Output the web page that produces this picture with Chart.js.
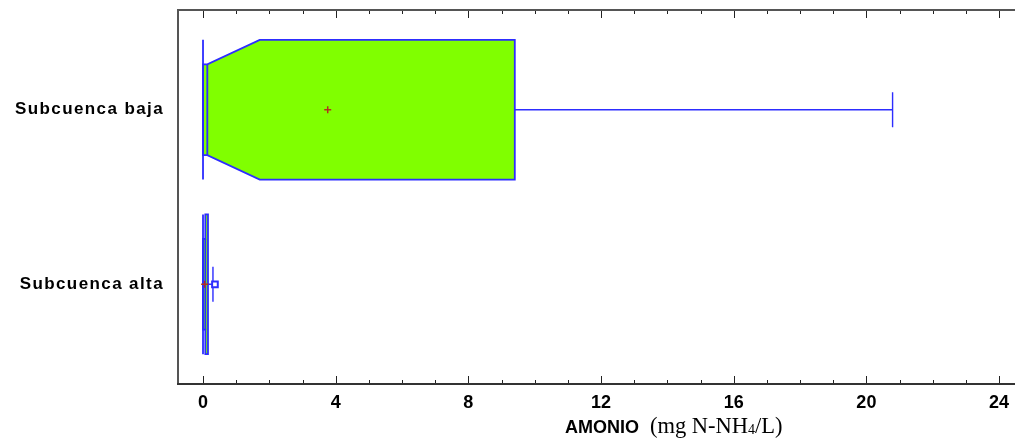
<!DOCTYPE html>
<html>
<head>
<meta charset="utf-8">
<script src="https://cdn.jsdelivr.net/npm/chart.js@4.4.1/dist/chart.umd.min.js"></script>
<style>
  html, body { margin: 0; padding: 0; background: #fff; }
  #wrap { position: relative; width: 1015px; height: 439px; }
  #xtitle { position: absolute; left: 565px; top: 413px; white-space: nowrap; color: #000; }
  #xtitle .lbl { font: bold 18px "Liberation Sans", Arial, sans-serif; }
  #xtitle .unit { font: 22.5px "Liberation Serif", "Times New Roman", serif; margin-left: 11px; }
  #xtitle sub { font-size: 14px; vertical-align: -1px; }
</style>
</head>
<body>
<div id="wrap">
  <canvas id="box" width="1015" height="439"></canvas>
  <div id="xtitle"><span class="lbl">AMONIO</span><span class="unit">(mg N-NH<sub>4</sub>/L)</span></div>
</div>
<script>
// categories, top to bottom
const categories = ['Subcuenca baja', 'Subcuenca alta'];

// five-number summaries (mg N-NH4/L)
const minVals = [0.0, 0.0];
const q1Vals = [0.0, 0.0];
const medianVals = [0.13, 0.07];
const q3Vals = [9.40, 0.15];
const maxVals = [20.79, 0.30];

// upper notch limit and mean
const notchHigh = [1.71, 0.07];
const meanVals = [3.76, 0.05];

// outside points
const outliers = [[], [0.36]];

const xTicks = [0, 4, 8, 12, 16, 20, 24];

const boxHalf = 0.4;
const notchHalf = 0.26;
const capHalf = 0.1;

const boxBlue = 'rgb(45, 45, 255)';
const boxGreen = 'rgb(128, 255, 0)';

// frame, inward ticks and notched boxes
const boxPlot = {
  id: 'boxPlot',
  beforeDatasetsDraw(chart) {
    const { ctx, chartArea: a, scales: { x, y } } = chart;
    ctx.save();

    // minor/major ticks on top and bottom edges
    ctx.strokeStyle = '#222';
    ctx.lineWidth = 1;
    for (let v = 0; v <= 24; v++) {
      const px = Math.round(x.getPixelForValue(v)) + 0.5;
      const len = v % 4 === 0 ? 8 : 4;
      ctx.beginPath();
      ctx.moveTo(px, a.bottom);
      ctx.lineTo(px, a.bottom - len);
      ctx.moveTo(px, a.top);
      ctx.lineTo(px, a.top + len);
      ctx.stroke();
    }

    // frame (open on the right)
    ctx.lineWidth = 2;
    ctx.strokeStyle = '#555';
    ctx.beginPath();
    ctx.moveTo(chart.width, a.top);
    ctx.lineTo(a.left, a.top);
    ctx.lineTo(a.left, a.bottom);
    ctx.stroke();
    ctx.strokeStyle = '#333';
    ctx.beginPath();
    ctx.moveTo(a.left - 1, a.bottom);
    ctx.lineTo(chart.width, a.bottom);
    ctx.stroke();

    ctx.strokeStyle = boxBlue;
    categories.forEach((c, i) => {
      const xq1 = x.getPixelForValue(q1Vals[i]);
      const xm = x.getPixelForValue(medianVals[i]);
      const xn = x.getPixelForValue(notchHigh[i]);
      const xq3 = x.getPixelForValue(q3Vals[i]);
      const xmin = x.getPixelForValue(minVals[i]);
      const xmax = x.getPixelForValue(maxVals[i]);
      const yc = y.getPixelForValue(i);
      const yT = y.getPixelForValue(i - boxHalf);
      const yB = y.getPixelForValue(i + boxHalf);
      const ynT = y.getPixelForValue(i - notchHalf);
      const ynB = y.getPixelForValue(i + notchHalf);
      const ycT = y.getPixelForValue(i - capHalf);
      const ycB = y.getPixelForValue(i + capHalf);

      // whiskers with caps
      ctx.lineWidth = 1.4;
      ctx.beginPath();
      ctx.moveTo(xq3, yc);
      ctx.lineTo(xmax, yc);
      ctx.moveTo(xmax, ycT);
      ctx.lineTo(xmax, ycB);
      ctx.moveTo(xq1, yc);
      ctx.lineTo(xmin, yc);
      ctx.moveTo(xmin, ycT);
      ctx.lineTo(xmin, ycB);
      ctx.stroke();

      // notched box
      ctx.lineWidth = 1.8;
      ctx.beginPath();
      ctx.moveTo(xq1, ynT);
      ctx.lineTo(xm, ynT);
      ctx.lineTo(xn, yT);
      ctx.lineTo(xq3, yT);
      ctx.lineTo(xq3, yB);
      ctx.lineTo(xn, yB);
      ctx.lineTo(xm, ynB);
      ctx.lineTo(xq1, ynB);
      ctx.closePath();
      ctx.fillStyle = boxGreen;
      ctx.fill();
      ctx.stroke();

      // Q1 edge and median
      ctx.beginPath();
      ctx.moveTo(xq1, yT);
      ctx.lineTo(xq1, yB);
      ctx.moveTo(xm, ynT);
      ctx.lineTo(xm, ynB);
      ctx.stroke();
    });
    ctx.restore();
  },
  afterDraw(chart) {
    // category labels, slightly tracked
    const { ctx, chartArea: a, scales: { y } } = chart;
    ctx.save();
    ctx.font = 'bold 17px "Liberation Sans", Arial, sans-serif';
    ctx.letterSpacing = '1.4px';
    ctx.fillStyle = '#000';
    ctx.textAlign = 'right';
    ctx.textBaseline = 'middle';
    categories.forEach((c, i) => {
      ctx.fillText(c, a.left - 14, y.getPixelForValue(i));
    });
    ctx.restore();
  }
};

new Chart('box', {
  type: 'scatter',
  data: {
    datasets: [
      {
        label: 'Media',
        data: meanVals.map((v, i) => ({ x: v, y: i })),
        pointStyle: 'cross',
        radius: 3.5,
        borderWidth: 1.5,
        borderColor: '#b0321e'
      },
      {
        label: 'Atípicos',
        data: outliers.flatMap((arr, i) => arr.map(v => ({ x: v, y: i }))),
        pointStyle: 'rect',
        radius: 4,
        borderWidth: 2,
        borderColor: boxBlue,
        backgroundColor: '#fff'
      }
    ]
  },
  options: {
    responsive: false,
    animation: false,
    layout: { padding: { left: 0, right: 0, top: 10, bottom: 0 } },
    plugins: {
      legend: { display: false },
      tooltip: { enabled: false }
    },
    scales: {
      x: {
        type: 'linear',
        min: -0.754,
        max: 24.30,
        afterBuildTicks: (s) => { s.ticks = xTicks.map(v => ({ value: v })); },
        afterFit: (s) => { s.height = 55; s.paddingLeft = 0; s.paddingRight = 0; },
        grid: { display: false, drawTicks: false },
        border: { display: false },
        ticks: {
          padding: 8,
          color: '#000',
          font: { family: '"Liberation Sans", Arial, sans-serif', size: 18, weight: 'bold' }
        }
      },
      y: {
        type: 'linear',
        reverse: true,
        min: -0.571,
        max: 1.571,
        afterBuildTicks: (s) => { s.ticks = categories.map((c, i) => ({ value: i })); },
        afterFit: (s) => { s.width = 178; s.paddingTop = 0; s.paddingBottom = 0; },
        grid: { display: false, drawTicks: false },
        border: { display: false },
        ticks: { display: false }
      }
    }
  },
  plugins: [boxPlot]
});
</script>
</body>
</html>
